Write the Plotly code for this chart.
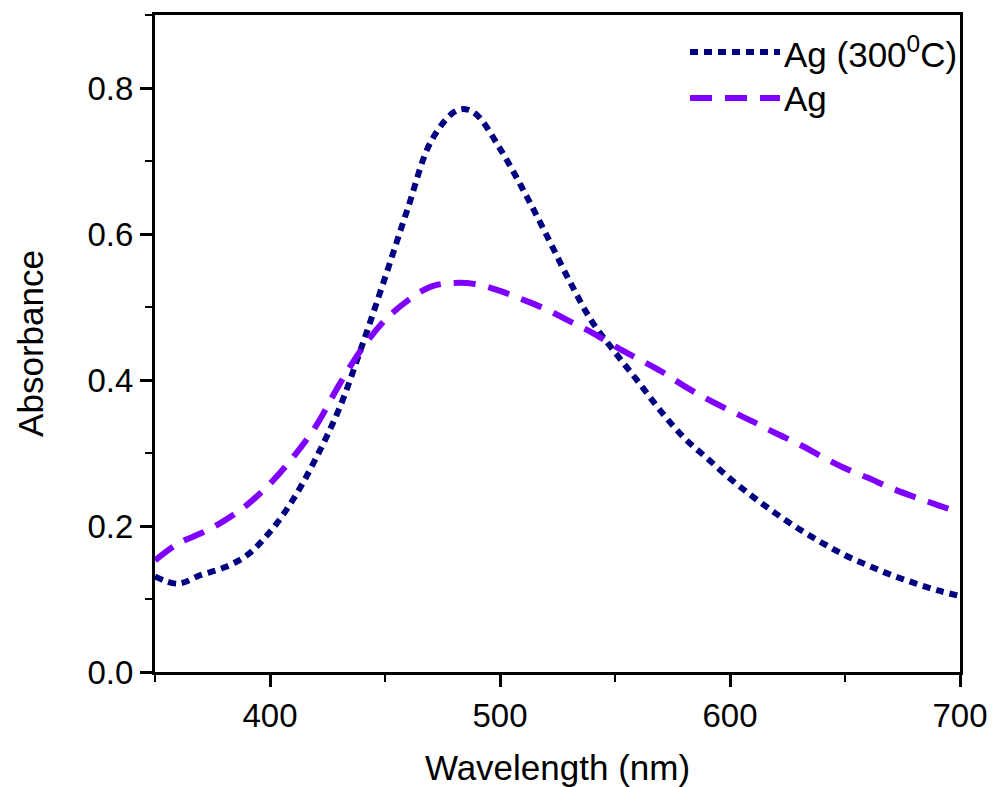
import plotly.graph_objects as go

# Wavelength (nm)
wl_300 = [350, 360, 370, 380, 390, 400, 410, 420, 430, 440, 450, 460, 470, 480, 485,
          490, 500, 510, 520, 530, 540, 550, 560, 570, 580, 590, 600, 610, 620, 630,
          640, 650, 660, 670, 680, 690, 700]
abs_300 = [0.131, 0.121, 0.133, 0.143, 0.160, 0.192, 0.236, 0.293, 0.360, 0.447, 0.540,
           0.636, 0.727, 0.767, 0.771, 0.763, 0.717, 0.661, 0.600, 0.537, 0.480, 0.438,
           0.398, 0.357, 0.321, 0.293, 0.265, 0.240, 0.217, 0.196, 0.177, 0.160, 0.146,
           0.133, 0.122, 0.112, 0.104]

wl_ag = [350, 360, 370, 380, 390, 400, 410, 420, 430, 440, 450, 460, 470, 480, 490,
         500, 510, 520, 530, 540, 550, 560, 570, 580, 590, 600, 610, 620, 630, 640,
         650, 660, 670, 680, 690, 700]
abs_ag = [0.153, 0.176, 0.190, 0.207, 0.229, 0.258, 0.294, 0.337, 0.393, 0.443, 0.482,
          0.509, 0.528, 0.533, 0.531, 0.522, 0.510, 0.497, 0.481, 0.465, 0.446, 0.429,
          0.412, 0.392, 0.374, 0.358, 0.343, 0.327, 0.312, 0.295, 0.279, 0.266, 0.252,
          0.240, 0.229, 0.218]

names = ["Ag (300<sup>0</sup>C)", "Ag"]
colors = ["#000080", "#8000FF"]
dashes = ["8px,6px", "22px,13px"]
widths = [6, 6]

FONT = "Arial, 'Liberation Sans', sans-serif"

fig = go.Figure()
fig.add_trace(go.Scatter(x=wl_300, y=abs_300, mode="lines", name=names[0],
                         line=dict(color=colors[0], width=widths[0], dash=dashes[0], shape="spline"),
                         showlegend=False))
fig.add_trace(go.Scatter(x=wl_ag, y=abs_ag, mode="lines", name=names[1],
                         line=dict(color=colors[1], width=widths[1], dash=dashes[1], shape="spline"),
                         showlegend=False))

axis_common = dict(showline=True, linecolor="black", linewidth=3, mirror=True,
                   ticks="outside", ticklen=12, tickwidth=3, tickcolor="black",
                   showgrid=False, zeroline=False, automargin=False,
                   tickfont=dict(family=FONT, size=33, color="black"))

fig.update_xaxes(range=[350, 700], tickvals=[400, 500, 600, 700],
                 minor=dict(dtick=50, tick0=350, ticks="outside", ticklen=7, tickwidth=2, tickcolor="black"),
                 title=dict(text="Wavelength (nm)", font=dict(family=FONT, size=35, color="black"), standoff=26),
                 **axis_common)
fig.update_yaxes(range=[0, 0.9], tickvals=[0, 0.2, 0.4, 0.6, 0.8], ticktext=["0.0", "0.2", "0.4", "0.6", "0.8"],
                 minor=dict(dtick=0.1, tick0=0, ticks="outside", ticklen=7, tickwidth=2, tickcolor="black"),
                 title=dict(text="Absorbance", font=dict(family=FONT, size=35, color="black"), standoff=34),
                 **axis_common)

# custom legend (long line samples as in the original)
L, R, T, B = 155, 960, 15, 672
def px(xp):
    return (xp - L) / (R - L)
def py(yp):
    return (B - yp) / (B - T)

shapes = []
annotations = []
for i, yrow in enumerate([52, 98]):
    shapes.append(dict(type="line", xref="paper", yref="paper",
                       x0=px(690), x1=px(780), y0=py(yrow), y1=py(yrow),
                       line=dict(color=colors[i], width=widths[i], dash=dashes[i])))
    annotations.append(dict(xref="paper", yref="paper", x=px(782), y=py(yrow),
                            xanchor="left", yanchor="middle", text=names[i], showarrow=False,
                            font=dict(family=FONT, size=35, color="black")))

fig.update_layout(width=992, height=787,
                  margin=dict(l=L, r=992 - R, t=T, b=787 - B),
                  plot_bgcolor="white", paper_bgcolor="white",
                  shapes=shapes, annotations=annotations)

fig.write_html("out.html")
